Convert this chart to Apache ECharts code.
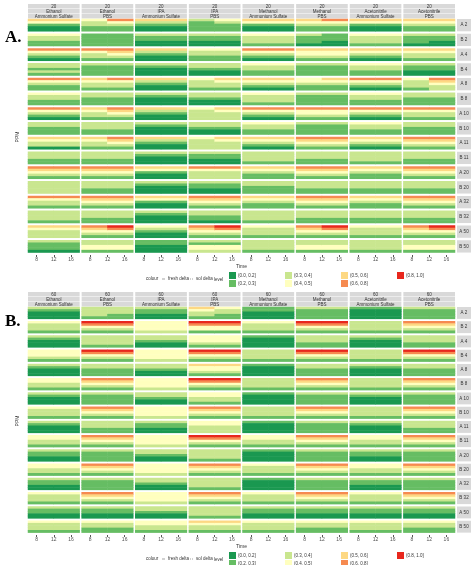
<!DOCTYPE html>
<html>
<head>
<meta charset="utf-8">
<script src="https://cdn.jsdelivr.net/npm/echarts@6/dist/echarts.min.js"></script>
<style>html,body{margin:0;padding:0;background:#fff}#chart{width:474px;height:565px}</style>
</head>
<body>
<div id="chart"></div>
<script>
// facet labels
const concA = '20';
const concB = '60';
const solvents = ['Ethanol', 'Ethanol', 'IPA', 'IPA', 'Methanol', 'Methanol', 'Acetonitrile', 'Acetonitrile'];
const buffers = ['Ammonium Sulfate', 'PBS', 'Ammonium Sulfate', 'PBS', 'Ammonium Sulfate', 'PBS', 'Ammonium Sulfate', 'PBS'];
const rowLabels = ['A 2', 'B 2', 'A 4', 'B 4', 'A 8', 'B 8', 'A 10', 'B 10', 'A 11', 'B 11', 'A 20', 'B 20', 'A 32', 'B 32', 'A 50', 'B 50'];
const timeTicks = [8, 12, 16];
const levelLabels = ['(0.0, 0.2]', '(0.2, 0.3]', '(0.3, 0.4]', '(0.4, 0.5]', '(0.5, 0.6]', '(0.6, 0.8]', '(0.8, 1.0]'];
const levelColors = ['#1a9850', '#66bd63', '#c9e68f', '#ffffbf', '#fdd883', '#f68a50', '#e8271d'];

// level bands per facet, top -> bottom; "left|right" when the band differs across time
const panelA = [
  ['43100', '32211|53211', '42100', '21111|32111', '43100', '43211|53211', '43100', '43211'],
  ['32211', '11111', '21100', '21100', '32221', '21110|11100', '32221', '21110|21100'],
  ['53210', '53221|54321', '42100', '32211', '53210', '43321', '43210', '43221'],
  ['22121', '21111', '21000', '22100', '32211', '21111', '32211', '21100'],
  ['53211', '43221|53221', '42100', '32221|43221', '43210', '33211|43211', '53210', '32221|54322'],
  ['32211', '22111', '21000', '22100', '32221', '21111', '32211', '22111'],
  ['53210', '43221|54321', '42100', '32222|43222', '53210', '53321', '53210', '53221'],
  ['22111', '22211', '21000', '22100', '32211', '21111', '32211', '22111'],
  ['43220', '43221|54321', '42100', '32222|43222', '43210', '54321', '43210', '54321'],
  ['22211', '22211', '21000', '21100', '22221', '22211', '22221', '22211'],
  ['54321', '54321', '43100', '53222', '43211', '54321', '43211', '54321'],
  ['22222', '22211', '21000', '21100', '22111', '22211', '22211', '22211'],
  ['53221', '54321', '43100', '54321', '43211', '54321', '43211', '54321'],
  ['22221', '22211', '21000', '22110', '22221', '22211', '22211', '22211'],
  ['43222', '54321|65321', '32100', '54321|65321', '32221', '54321|65321', '32221', '54321|65321'],
  ['21110', '22331', '11000', '21332', '22221', '22331', '22221', '22331']
];
const panelB = [
  ['21000', '22221|22211', '21100', '43221|32211', '11000', '21111', '10000', '21111'],
  ['32221', '65321', '33332', '65331', '32221', '65321', '22221', '54321'],
  ['21000', '22221', '22100', '33321', '10000', '22211', '21000', '22211'],
  ['33321', '65321', '33332', '65321', '22221', '65321', '22221', '65321'],
  ['21000', '22111', '22100', '43321', '10000', '22111', '21000', '22111'],
  ['33221', '54321', '33332', '65321', '22221', '54321', '22221', '54321'],
  ['21000', '21111', '22100', '33221', '10000', '21111', '21000', '21111'],
  ['32221', '54321', '33332', '54321', '22221', '54321', '22221', '54321'],
  ['21000', '22211', '21100', '33222', '10000', '21111', '21000', '22211'],
  ['33221', '54321', '33332', '65321', '33221', '54321', '33221', '54321'],
  ['21100', '21111', '22100', '22221', '10000', '21111', '21100', '21111'],
  ['33221', '54321', '33332', '54321', '32221', '54321', '33221', '54321'],
  ['21100', '21111', '22100', '22221', '10000', '21111', '21100', '21111'],
  ['32221', '54321', '33332', '54321', '32221', '54321', '32221', '54321'],
  ['21100', '21100', '22100', '22221', '21100', '21100', '21100', '21100'],
  ['32221', '32211', '33221', '43221', '32221', '32211', '32221', '32211']
];

const X0 = 28, X1 = 455, GAP = 2;
const COLW = (X1 - X0 - GAP * 7) / 8;
const FONT = 'Liberation Sans';
const panels = [
  {data: panelA, conc: concA, stripTop: 4, top: 19, bottom: 255, label: 'A.', labelY: 38},
  {data: panelB, conc: concB, stripTop: 292, top: 307, bottom: 535, label: 'B.', labelY: 322}
];

const grid = [], xAxis = [], yAxis = [], series = [], graphic = [];
const yCats = [];
for (let i = 0; i < 16 * 6; i++) yCats.push(String(i));

panels.forEach((p, pi) => {
  for (let c = 0; c < 8; c++) {
    const gi = grid.length;
    const left = X0 + c * (COLW + GAP);
    grid.push({left: left, width: COLW, top: p.top, height: p.bottom - p.top});
    xAxis.push({type: 'category', gridIndex: gi, data: ['L', 'R'], show: false});
    xAxis.push({
      type: 'value', gridIndex: gi, min: 6, max: 18, position: 'bottom',
      axisLine: {show: false}, splitLine: {show: false},
      axisTick: {show: true, length: 2, lineStyle: {color: '#555'}, customValues: timeTicks},
      axisLabel: {fontSize: 5, color: '#555', margin: 2, fontFamily: FONT, customValues: timeTicks}
    });
    yAxis.push({type: 'category', gridIndex: gi, data: yCats, inverse: true, show: false});
    const pts = [];
    p.data.forEach((row, r) => {
      const parts = row[c].split('|');
      const halves = [parts[0], parts[1] || parts[0]];
      halves.forEach((s, h) => {
        for (let b = 0; b < s.length; b++) {
          const lv = +s[b];
          pts.push({value: [h, r * 6 + b, lv], itemStyle: {color: levelColors[lv]}});
        }
      });
    });
    series.push({type: 'heatmap', xAxisIndex: xAxis.length - 2, yAxisIndex: gi, data: pts, itemStyle: {borderWidth: 0}, silent: true});

    // top strips
    const lines = [p.conc, solvents[c], buffers[c]];
    lines.forEach((t, k) => {
      graphic.push({type: 'rect', shape: {x: left, y: p.stripTop + k * 5, width: COLW, height: 4.6}, style: {fill: '#d9d9d9'}});
      graphic.push({type: 'text', x: left + COLW / 2, y: p.stripTop + k * 5 + 2.4,
        style: {text: t, fontSize: 4.5, fill: '#333', align: 'center', verticalAlign: 'middle', fontFamily: FONT}});
    });
  }
  // right strips
  const rowH = (p.bottom - p.top) / 16;
  rowLabels.forEach((t, r) => {
    const y = p.top + r * rowH;
    graphic.push({type: 'rect', shape: {x: X1 + 2, y: y, width: 14, height: rowH * 5 / 6}, style: {fill: '#d9d9d9'}});
    graphic.push({type: 'text', x: X1 + 9, y: y + rowH * 5 / 12,
      style: {text: t, fontSize: 4.5, fill: '#333', align: 'center', verticalAlign: 'middle', fontFamily: FONT}});
  });
  graphic.push({type: 'text', x: 5, y: p.labelY, style: {text: p.label, fontSize: 17, fontWeight: 'bold', fill: '#000', fontFamily: 'Liberation Serif', verticalAlign: 'middle'}});
  graphic.push({type: 'text', x: 18, y: (p.top + p.bottom) / 2, rotation: Math.PI / 2,
    style: {text: 'PPM', fontSize: 5, fill: '#333', align: 'center', verticalAlign: 'middle', fontFamily: FONT}});
  graphic.push({type: 'text', x: (X0 + X1) / 2, y: p.bottom + 9,
    style: {text: 'Time', fontSize: 5, fill: '#333', align: 'center', fontFamily: FONT}});

  // legend
  const ly = p.bottom + 17;
  const tx = (x, y, t) => graphic.push({type: 'text', x: x, y: y, style: {text: t, fontSize: 4.5, fill: '#333', verticalAlign: 'middle', fontFamily: FONT}});
  tx(146, ly + 7, 'colour');
  graphic.push({type: 'line', shape: {x1: 162, y1: ly + 7, x2: 165, y2: ly + 7}, style: {stroke: '#666', lineWidth: 0.6}});
  tx(168, ly + 7, 'fresh delta');
  graphic.push({type: 'line', shape: {x1: 190, y1: ly + 7, x2: 193, y2: ly + 7}, style: {stroke: '#666', lineWidth: 0.6, lineDash: [1, 1]}});
  tx(196, ly + 7, 'sol delta');
  tx(214, ly + 8, 'level');
  levelLabels.forEach((t, i) => {
    const col = Math.floor(i / 2), rr = i % 2;
    const x = 229 + col * 56, y = ly + rr * 8;
    graphic.push({type: 'rect', shape: {x: x, y: y, width: 7, height: 7}, style: {fill: levelColors[i]}});
    tx(x + 9, y + 3.5, t);
  });
});

const chart = echarts.init(document.getElementById('chart'), null, {renderer: 'canvas'});
chart.setOption({animation: false, backgroundColor: '#fff', grid, xAxis, yAxis, series, graphic});
</script>
</body>
</html>
